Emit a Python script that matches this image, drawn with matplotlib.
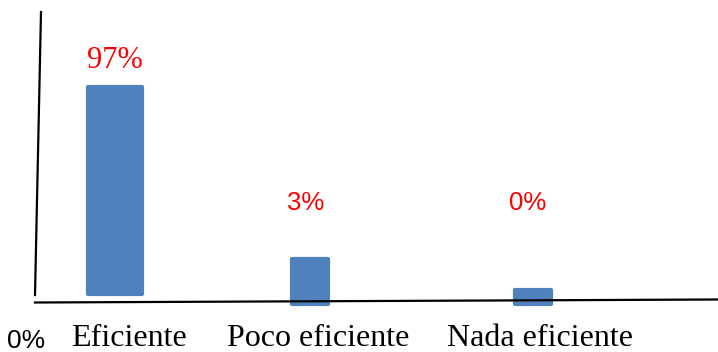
import numpy as np
import matplotlib.pyplot as plt
from matplotlib.lines import Line2D

# survey answers and their share of respondents (%)
categories = ["Eficiente", "Poco eficiente", "Nada eficiente"]
shares = [97, 3, 0]
share_labels = ["97%", "3%", "0%"]
axis_label = "0%"

# layout (x in category units, offsets in pixels)
bar_shift = [0.0, -0.067, 0.0]
bar_width = [0.258, 0.168, 0.172]
bar_bottom = [-0.07, -0.7, -0.65]
label_shift = [0.067, 0.971, 2.033]
value_offset = [(0, 27), (-4, 56), (-5, 87)]

BLUE = "#4F81BD"
P = 0.54          # power used for the value axis
PX_PER_UNIT = 17.13


def fwd(v):
    v = np.asarray(v, dtype=float)
    return np.sign(v) * np.abs(v) ** P


def inv(t):
    t = np.asarray(t, dtype=float)
    return np.sign(t) * np.abs(t) ** (1 / P)


fig = plt.figure(figsize=(7.18, 3.52), dpi=100)
ax = fig.add_axes([0, 0, 1, 1])
ax.set_yscale("function", functions=(fwd, inv))
ax.set_xlim(-115 / 209, (718 - 115) / 209)
ax.set_ylim(float(inv(-62 / PX_PER_UNIT)), float(inv(290 / PX_PER_UNIT)))
ax.axis("off")

x = np.arange(len(categories)) + np.array(bar_shift)
heights = np.array(shares) - np.array(bar_bottom)
bars = ax.bar(x, heights, bottom=bar_bottom, width=bar_width, color=BLUE,
              edgecolor=BLUE, linewidth=3, zorder=1)
for b in bars:
    b.set_joinstyle("round")

# value labels above the bars
for i, (xi, v, lab) in enumerate(zip(x, shares, share_labels)):
    if i == 0:
        font = dict(family="Liberation Serif", fontsize=22)
    else:
        font = dict(family="Liberation Sans", fontsize=18.5)
    ax.annotate(lab, (xi, v), xytext=value_offset[i], textcoords="offset pixels",
                ha="center", va="center", color="red", **font)

# category names under the baseline
for xs, name in zip(label_shift, categories):
    ax.text(xs, 5.5 / 352, name, transform=ax.get_xaxis_transform(),
            ha="center", va="baseline", family="Liberation Serif", fontsize=23)

fig.text(26 / 718, 3.5 / 352, axis_label, ha="center", va="baseline",
         family="Liberation Sans", fontsize=19)

# hand-drawn looking axes
fig.lines.append(Line2D([41 / 718, 35 / 718], [1 - 12 / 352, 1 - 295 / 352],
                        transform=fig.transFigure, color="black", lw=1.6))
fig.lines.append(Line2D([35 / 718, 718 / 718], [1 - 302.5 / 352, 1 - 299.5 / 352],
                        transform=fig.transFigure, color="black", lw=1.6))

fig.savefig("out.png", dpi=100)
